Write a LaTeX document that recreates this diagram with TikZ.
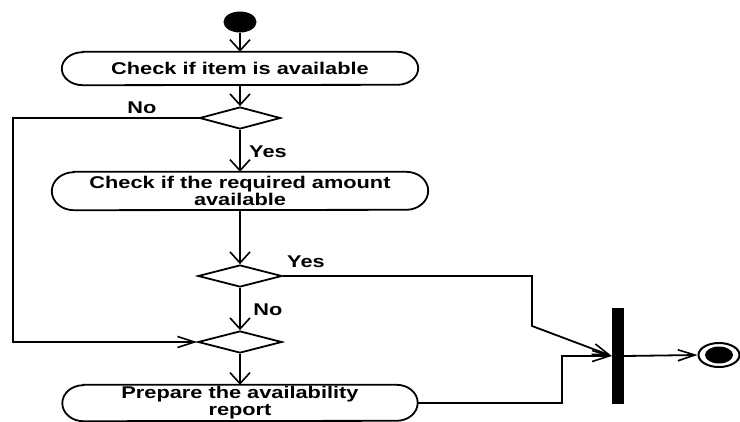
\documentclass[tikz,border=0pt]{standalone}
\usepackage{fontspec}
\usetikzlibrary{arrows.meta,shapes.geometric}
\newfontfamily\lbl[FakeStretch=1.28]{Liberation Sans}

% outline of an activity: straight top and bottom, elliptic ends
% #1 node name, #2 horizontal radius of the ends, #3 half height
\newcommand\actoutline[3]{%
  \draw[edge] ([xshift=#2pt]#1.north west) -- ([xshift=-#2pt]#1.north east)
    arc[start angle=90,end angle=-90,x radius=#2pt,y radius=#3pt]
    -- ([xshift=#2pt]#1.south west)
    arc[start angle=270,end angle=90,x radius=#2pt,y radius=#3pt] -- cycle;}

\begin{document}
\begin{tikzpicture}[x=1pt,y=-1pt,
  edge/.style={line width=1.8pt,black},
  txt/.style={font=\lbl\bfseries\fontsize{17}{17}\selectfont},
  actbox/.style={txt,rectangle,draw=none,inner sep=0pt,align=center},
  decision/.style={diamond,draw,line width=1.8pt,inner sep=0pt,minimum width=84pt,minimum height=22pt},
  varrow/.style={edge,-{Straight Barb[length=11pt,width=20pt,line width=1.6pt]}},
  harrow/.style={edge,-{Straight Barb[length=17pt,width=11pt,line width=1.6pt]}}]
\useasboundingbox (0,0) rectangle (740,421);

% nodes
\node[ellipse,fill=black,inner sep=0pt,minimum width=33pt,minimum height=21pt] (start) at (240,22) {};
\node[actbox,minimum width=356pt,minimum height=33pt] (act1) at (240,68.5) {Check if item is available};
\node[decision,minimum width=81pt] (d1) at (240,118) {};
\node[actbox,minimum width=376pt,minimum height=38pt] (act2) at (240,191) {Check if the required amount\\available};
\node[decision] (d2) at (240,276) {};
\node[decision] (d3) at (240,342) {};
\node[actbox,minimum width=355pt,minimum height=36pt] (act3) at (240,403) {Prepare the availability\\report};
\node[rectangle,fill=black,inner sep=0pt,minimum width=12pt,minimum height=96pt] (bar) at (618,356) {};
\node[ellipse,draw,line width=2pt,inner sep=0pt,minimum width=41pt,minimum height=24pt] (final) at (719,355) {};
\node[ellipse,fill=black,inner sep=0pt,minimum width=28pt,minimum height=17pt] (finaldot) at (final.center) {};

\actoutline{act1}{21}{16.5}
\actoutline{act2}{22}{19}
\actoutline{act3}{21}{18}

% guard labels
\node[txt] (no1) at (142,108) {No};
\node[txt] (yes1) at (268,152) {Yes};
\node[txt] (yes2) at (306,262) {Yes};
\node[txt] (no2) at (268,310) {No};

% bend points
\coordinate (loopleft) at (13,230);
\coordinate (bend1) at (532,326);
\coordinate (bend2) at (562,356);

% connectors
\draw[varrow] (start.south) -- (act1.north);
\draw[varrow] (act1.south) -- (d1.north);
\draw[varrow] (d1.south) -- (act2.north);
\draw[varrow] (act2.south) -- (d2.north);
\draw[varrow] (d2.south) -- (d3.north);
\draw[varrow] (d3.south) -- (act3.north);
\draw[harrow] (d1.west) -| (loopleft) |- (d3.west);
\draw[harrow] (d2.east) -| (bend1) -- (bar.west);
\draw[harrow] (act3.east) -| (bend2) -- (bar.west);
\draw[harrow] (bar.east) -- (final.west);
\end{tikzpicture}
\end{document}
